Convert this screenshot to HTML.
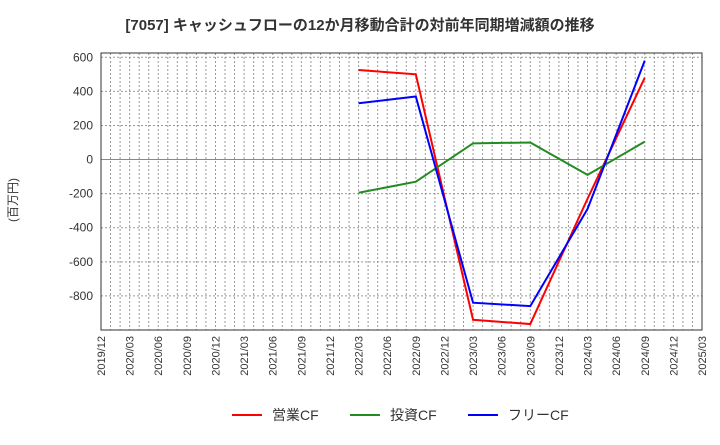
<!DOCTYPE html>
<html><head><meta charset="utf-8"><style>
body{margin:0;background:#fff;font-family:"Liberation Sans","Noto Sans CJK JP",sans-serif;}
svg text{font-family:"Liberation Sans","Noto Sans CJK JP",sans-serif;}
</style></head><body>
<svg id="chart" width="720" height="440" xmlns="http://www.w3.org/2000/svg">
<text x="360" y="30" text-anchor="middle" font-size="15" font-weight="bold" fill="#333">[7057]  キャッシュフローの12か月移動合計の対前年同期増減額の推移</text>
<text transform="translate(17,200) rotate(-90)" text-anchor="middle" font-size="12" fill="#333">(百万円)</text>
<g id="grid"></g><g id="axes"></g><g id="series"></g>
<g>
<line x1="232" y1="415" x2="262" y2="415" stroke="#f00" stroke-width="2"/>
<text x="272" y="420" font-size="14" fill="#333">営業CF</text>
<line x1="350" y1="415" x2="380" y2="415" stroke="#228b22" stroke-width="2"/>
<text x="390" y="420" font-size="14" fill="#333">投資CF</text>
<line x1="468" y1="415" x2="498" y2="415" stroke="#00f" stroke-width="2"/>
<text x="508" y="420" font-size="14" fill="#333">フリーCF</text>
</g>
</svg>
<script>
const xTicks=["2019/12","2020/03","2020/06","2020/09","2020/12","2021/03","2021/06","2021/09","2021/12","2022/03","2022/06","2022/09","2022/12","2023/03","2023/06","2023/09","2023/12","2024/03","2024/06","2024/09","2024/12","2025/03"];
const yTicks=[600,400,200,0,-200,-400,-600,-800];
const pointIdx=[9,11,13,15,17,19];
const operating=[525,500,-940,-965,-230,480];
const investing=[-195,-130,95,100,-90,105];
const freeCF=[330,370,-840,-860,-290,580];
const L=101,R=702,T=53,B=330,yMin=-1000,yMax=625;
const X=i=>L+(R-L)*i/(xTicks.length-1);
const Y=v=>B-(v-yMin)/(yMax-yMin)*(B-T);
const NS="http://www.w3.org/2000/svg";
function mk(p,tag,a){const e=document.createElementNS(NS,tag);for(const k in a)e.setAttribute(k,a[k]);p.appendChild(e);return e;}
const g=document.getElementById('grid'),ax=document.getElementById('axes'),s=document.getElementById('series');
for(let m=1;m<(xTicks.length-1)*3;m++){const x=L+(R-L)*m/((xTicks.length-1)*3);
const l=mk(g,'line',{x1:x,x2:x,y1:T,y2:B,stroke:'#999','stroke-dasharray':'2,2','stroke-width':1});

}
yTicks.forEach(v=>{const y=Y(v);
const l=mk(g,'line',{x1:L,x2:R,y1:y,y2:y,stroke:v===0?'#888':'#999','stroke-dasharray':v===0?'':'2,2','stroke-width':1});


const t=mk(ax,'text',{x:L-8,y:y+4,'text-anchor':'end','font-size':12,fill:'#333'});t.textContent=v;

});
const f=mk(ax,'rect',{x:L,y:T,width:R-L,height:B-T,fill:'none',stroke:'#333','stroke-width':1});


xTicks.forEach((lab,i)=>{const x=X(i);
const t=mk(ax,'text',{transform:`translate(${x+4},${B+6}) rotate(-90)`,'text-anchor':'end','font-size':11,fill:'#333'});t.textContent=lab;

});
[[operating,'#f00','operating-cf-line'],[investing,'#228b22','investing-cf-line'],[freeCF,'#00f','free-cf-line']].forEach(([d,c,n])=>{
const p=mk(s,'polyline',{points:d.map((v,i)=>X(pointIdx[i])+','+Y(v)).join(' '),fill:'none',stroke:c,'stroke-width':2});

});
</script>
</body></html>
